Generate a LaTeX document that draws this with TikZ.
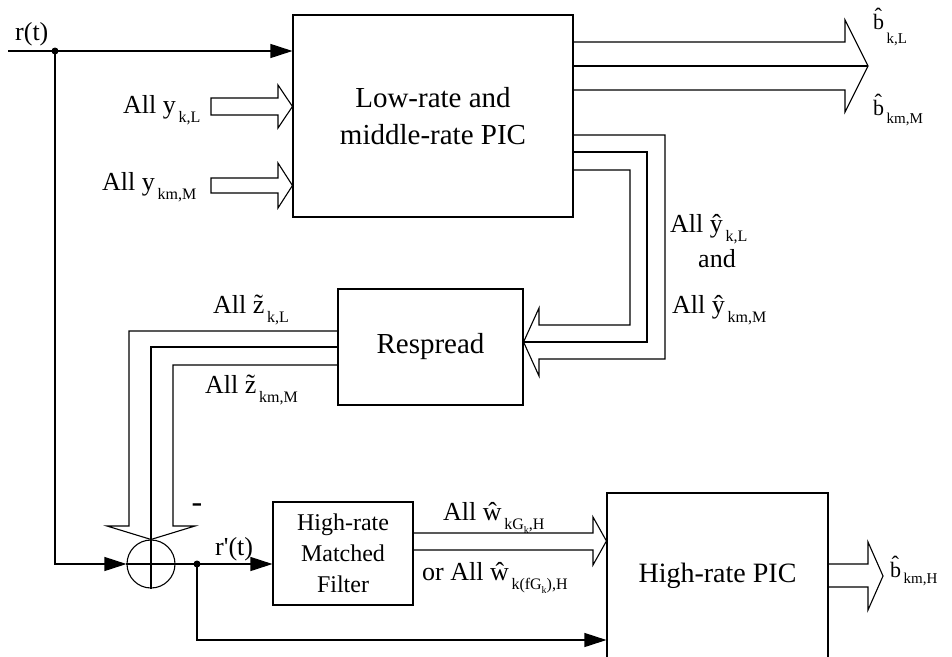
\documentclass[tikz,border=0pt]{standalone}
\usepackage{fontspec}
\setmainfont{Liberation Serif}
\usetikzlibrary{positioning,arrows.meta,calc}
\newcommand\ind[1]{\raisebox{-9pt}{\fontsize{16}{16}\selectfont\,#1}}
\newcommand\subind[1]{\raisebox{-4pt}{\fontsize{10}{10}\selectfont #1}}
\newcommand\bind[2]{\raisebox{-#1}{\fontsize{15}{15}\selectfont\,#2}}
\tikzset{
  bloc/.style     = {draw, line width=1.1pt, align=center, inner sep=0pt},
  eticheta/.style = {inner sep=0pt, font=\fontsize{26}{26}\selectfont},
  iesire/.style   = {inner sep=0pt, font=\fontsize{22}{22}\selectfont, anchor=base west},
  sageata/.style  = {-{Triangle[length=22pt,width=14pt]}, line width=1.1pt},
  contur/.style   = {line width=1.1pt, line join=miter},
  punct/.style    = {circle, fill, inner sep=0pt, minimum size=7pt}
}

\begin{document}
\begin{tikzpicture}[x=1pt,y=-1pt]
\useasboundingbox (0,0) rectangle (952,656);

% blocuri
\node[bloc, minimum width=280pt, minimum height=202pt, font=\fontsize{29}{37}\selectfont] (lowpic) at (433,116) {Low-rate and\\ middle-rate PIC};
\node[bloc, minimum width=185pt, minimum height=116pt, font=\fontsize{29}{29}\selectfont] (respread) at (430.5,347) {Respread};
\node[bloc, minimum width=140pt, minimum height=103pt, font=\fontsize{24}{31}\selectfont] (mf) at (343,553.5) {High-rate\\ Matched\\ Filter};
\node[bloc, minimum width=221pt, minimum height=166pt, font=\fontsize{28}{28}\selectfont] (highpic) at (717.5,576) {High-rate PIC};
\node[draw, circle, line width=1.1pt, minimum size=48pt, inner sep=0pt] (sum) at (151,564) {};
\draw[line width=1.1pt] (sum.north) -- (sum.south) (sum.west) -- (sum.east);

% semnalul r(t)
\coordinate (rin) at (8,51);
\node[punct] (d1) at (55,51) {};
\node[eticheta, anchor=base west] (rt) at (15,40) {r(t)};
\draw[sageata] (rin) -- (lowpic.west |- rin);
\draw[sageata] (d1.center) |- (sum.west);

% iesirea sumatorului
\node[punct] (d2) at (197,564) {};
\node[eticheta, anchor=base west] (rpt) at (215,555) {r\textquotesingle(t)};
\node[inner sep=0pt, anchor=base, font=\fontsize{32}{32}\selectfont] (minus) at (197,512) {-};
\draw[sageata] (sum.east) -- (mf.west |- sum.east);
\draw[sageata] (d2.center) |- ($(highpic.west)+(0,64)$);

% intrari
\node[eticheta, anchor=base west] (ykl) at (123,113) {All y\ind{k,L}};
\node[eticheta, anchor=base west] (ykm) at (102,190) {All y\ind{km,M}};
\draw[contur] (211,98) -- (278,98) -- (278,85) -- (lowpic.west |- 0,106.5) -- (278,128) -- (278,115) -- (211,115) -- cycle;
\draw[contur] (211,178) -- (278,178) -- (278,163) -- (lowpic.west |- 0,185.5) -- (278,208) -- (278,193) -- (211,193) -- cycle;

% iesiri low/middle-rate
\draw[contur] (lowpic.east |- 0,42) -- (845,42) -- (845,20) -- (868,66) -- (845,112) -- (845,90) -- (lowpic.east |- 0,90);
\draw[contur] (lowpic.east |- 0,66) -- (868,66);
\node[iesire] (bkl) at (873,29) {\^{b}\bind{14pt}{k,L}};
\node[iesire] (bkm) at (873,115) {\^{b}\bind{8pt}{km,M}};

% reactie spre Respread
\draw[contur] (lowpic.east |- 0,135) -- (665,135) -- (665,359) -- (539,359) -- (539,376) -- (respread.east |- 0,342) -- (539,308) -- (539,325) -- (630,325) -- (630,170) -- (lowpic.east |- 0,170);
\draw[contur] (lowpic.east |- 0,152) -- (647,152) -- (647,342) -- (respread.east |- 0,342);
\node[eticheta, anchor=base west] (yhkl) at (670,232) {All \^{y}\ind{k,L}};
\node[eticheta, anchor=base west] (and) at (698,267) {and};
\node[eticheta, anchor=base west] (yhkm) at (672,313) {All \^{y}\ind{km,M}};

% Respread spre sumator
\draw[contur] (respread.west |- 0,331) -- (129,331) -- (129,526) -- (107,526) -- (sum.north) -- (195,526) -- (173,526) -- (173,365) -- (respread.west |- 0,365);
\draw[contur] (respread.west |- 0,347) -- (151,347) -- (sum.north);
\node[eticheta, anchor=base west] (zkl) at (213,313) {All \~{z}\ind{k,L}};
\node[eticheta, anchor=base west] (zkm) at (205,393) {All \~{z}\ind{km,M}};

% filtru spre High-rate PIC
\draw[contur] (mf.east |- 0,533) -- (593,533) -- (593,517) -- (highpic.west |- 0,541) -- (593,565) -- (593,550) -- (mf.east |- 0,550);
\node[eticheta, anchor=base west] (wk) at (443,520) {All \^{w}\ind{kG\subind{k},H}};
\node[eticheta, anchor=base west] (wkf) at (422,580) {or All \^{w}\ind{k(fG\subind{k}),H}};

% iesire High-rate PIC
\draw[contur] (highpic.east |- 0,564) -- (868,564) -- (868,542) -- (883,576) -- (868,610) -- (868,587) -- (highpic.east |- 0,587);
\node[iesire] (bkh) at (890,577) {\^{b}\bind{6pt}{km,H}};
\end{tikzpicture}
\end{document}
